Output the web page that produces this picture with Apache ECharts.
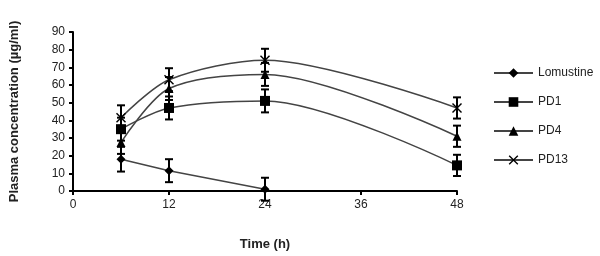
<!DOCTYPE html>
<html>
<head>
<meta charset="utf-8">
<script src="https://cdn.jsdelivr.net/npm/echarts@6/dist/echarts.min.js"></script>
<style>
  html, body { margin: 0; padding: 0; background: #fff; }
  #main { width: 600px; height: 256px; }
</style>
</head>
<body>
<div id="main"></div>
<script>
// sampling times (h)
var times = [6, 12, 24, 48];

// mean values and SD
var lomustine = [18, 11.5, 1];
var lomustineErr = [7, 6.5, 6.5];
var pd1 = [35, 47, 51, 14.5];
var pd1Err = [6.5, 6.5, 6.5, 6];
var pd4 = [27.5, 58, 66, 31];
var pd4Err = [6.5, 6.5, 6.5, 6];
var pd13 = [41.5, 63, 74, 47];
var pd13Err = [7, 6.5, 6.5, 6];

var font = "Liberation Sans, Arial, sans-serif";
var xShape = "path://M0,1 L1,0 L5,4 L9,0 L10,1 L6,5 L10,9 L9,10 L5,6 L1,10 L0,9 L4,5 Z";

function pairs(vals) {
    var out = [];
    for (var i = 0; i < vals.length; i++) {
        out.push([times[i], vals[i]]);
    }
    return out;
}

function errRows(vals, errs) {
    var out = [];
    for (var i = 0; i < vals.length; i++) {
        out.push([times[i], vals[i] - errs[i], vals[i] + errs[i]]);
    }
    return out;
}

var errData = []
    .concat(errRows(lomustine, lomustineErr))
    .concat(errRows(pd1, pd1Err))
    .concat(errRows(pd4, pd4Err))
    .concat(errRows(pd13, pd13Err));

// vertical bar with caps
function renderErr(params, api) {
    var x = api.value(0);
    var lo = api.coord([x, api.value(1)]);
    var hi = api.coord([x, api.value(2)]);
    var w = 4;
    var st = { stroke: "#000", lineWidth: 2 };
    return {
        type: "group",
        children: [
            { type: "line", shape: { x1: lo[0], y1: lo[1], x2: hi[0], y2: hi[1] }, style: st },
            { type: "line", shape: { x1: lo[0] - w, y1: lo[1], x2: lo[0] + w, y2: lo[1] }, style: st },
            { type: "line", shape: { x1: hi[0] - w, y1: hi[1], x2: hi[0] + w, y2: hi[1] }, style: st }
        ]
    };
}

var chart = echarts.init(document.getElementById("main"));

function lineSeries(name, vals, symbol, size, smooth) {
    return {
        name: name,
        type: "line",
        data: pairs(vals),
        smooth: smooth,
        symbol: symbol,
        symbolSize: size,
        showAllSymbol: true,
        lineStyle: { color: "#444", width: 1.5 },
        itemStyle: { color: "#000" },
        z: 3
    };
}

var option = {
    backgroundColor: "#fff",
    animation: false,
    grid: { left: 71, top: 32, right: 143, bottom: 64 },
    legend: {
        orient: "vertical",
        left: 488,
        top: 62,
        itemWidth: 39,
        itemHeight: 12,
        itemGap: 17,
        textStyle: { fontFamily: font, fontSize: 12, color: "#222" },
        data: ["Lomustine", "PD1", "PD4", "PD13"]
    },
    xAxis: {
        type: "value",
        min: 0,
        max: 48,
        interval: 12,
        name: "Time (h)",
        nameLocation: "middle",
        nameGap: 47,
        nameTextStyle: { fontFamily: font, fontSize: 13, fontWeight: "bold", color: "#222" },
        axisLine: { lineStyle: { color: "#000", width: 2 } },
        axisTick: { show: true, length: 4, lineStyle: { color: "#000", width: 2 } },
        axisLabel: { fontFamily: font, fontSize: 12, color: "#222", margin: 8 },
        splitLine: { show: false }
    },
    yAxis: {
        type: "value",
        min: 0,
        max: 90,
        interval: 10,
        name: "Plasma concentration (µg/ml)",
        nameLocation: "middle",
        nameRotate: 90,
        nameGap: 52,
        nameTextStyle: { fontFamily: font, fontSize: 13, fontWeight: "bold", color: "#222" },
        axisLine: { show: true, lineStyle: { color: "#000", width: 2 } },
        axisTick: { show: true, length: 4, lineStyle: { color: "#000", width: 2 } },
        axisLabel: { fontFamily: font, fontSize: 12, color: "#222", margin: 8 },
        splitLine: { show: false }
    },
    series: [
        lineSeries("Lomustine", lomustine, "diamond", 9, false),
        lineSeries("PD1", pd1, "rect", 10, 0.3),
        lineSeries("PD4", pd4, "triangle", 9, 0.3),
        lineSeries("PD13", pd13, xShape, 10, 0.3),
        {
            type: "custom",
            renderItem: renderErr,
            data: errData,
            encode: { x: 0, y: [1, 2] },
            silent: true,
            z: 4
        }
    ]
};

chart.setOption(option);
</script>
</body>
</html>
